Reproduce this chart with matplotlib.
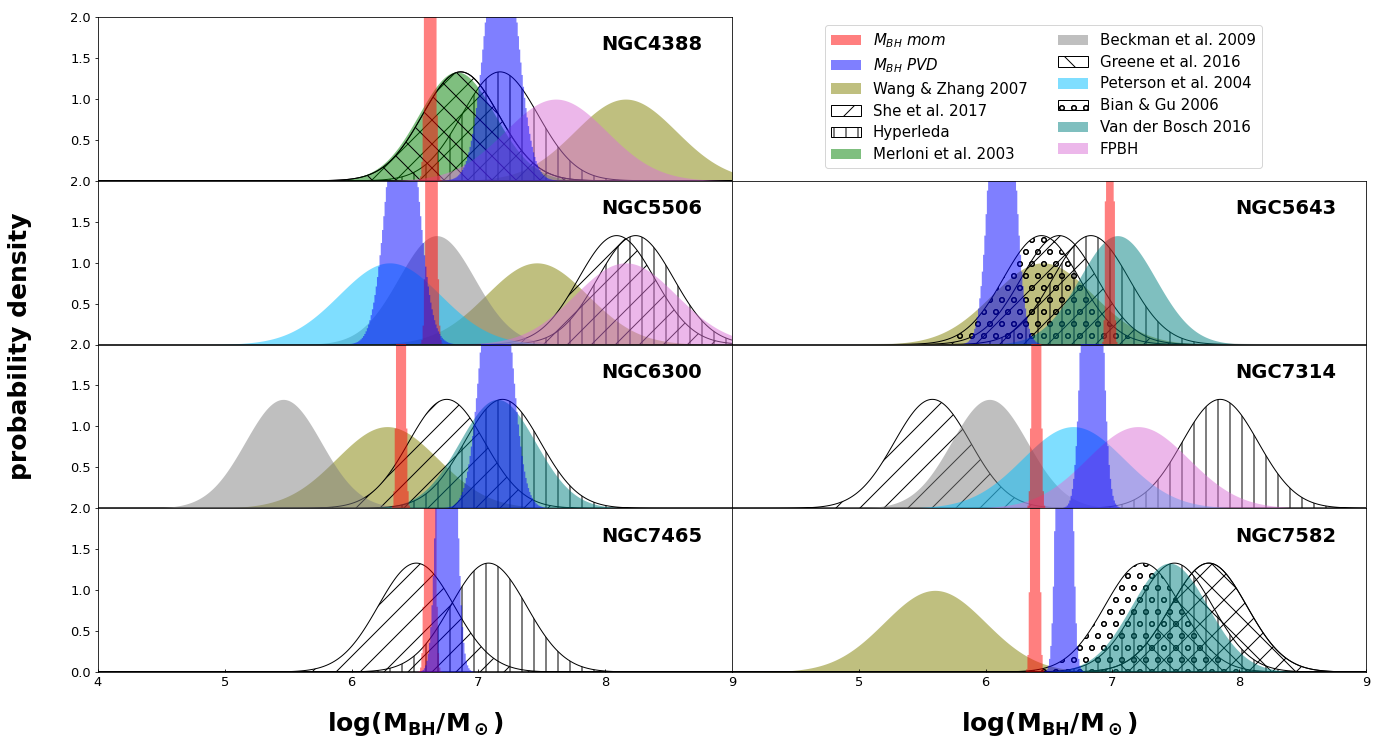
import numpy as np
import matplotlib
matplotlib.use('Agg')
import matplotlib.pyplot as plt
from matplotlib.patches import Patch

# galaxies, in panel order (left column top->bottom, then right column)
left_gal = ['NGC4388', 'NGC5506', 'NGC6300', 'NGC7465']
right_gal = [None, 'NGC5643', 'NGC7314', 'NGC7582']

# our own estimates (narrow histograms): mean, sigma
mom_mean = {'NGC4388': 6.62, 'NGC5506': 6.63, 'NGC6300': 6.39, 'NGC7465': 6.62,
            'NGC5643': 6.98, 'NGC7314': 6.40, 'NGC7582': 6.39}
mom_sig = {'NGC4388': 0.022, 'NGC5506': 0.022, 'NGC6300': 0.018, 'NGC7465': 0.022,
           'NGC5643': 0.015, 'NGC7314': 0.018, 'NGC7582': 0.018}
pvd_mean = {'NGC4388': 7.18, 'NGC5506': 6.40, 'NGC6300': 7.14, 'NGC7465': 6.75,
            'NGC5643': 6.13, 'NGC7314': 6.84, 'NGC7582': 6.62}
pvd_sig = {'NGC4388': 0.12, 'NGC5506': 0.115, 'NGC6300': 0.11, 'NGC7465': 0.055,
           'NGC5643': 0.085, 'NGC7314': 0.06, 'NGC7582': 0.04}

# literature values: galaxy -> (log M, sigma)
wang_zhang = {'NGC4388': (8.16, 0.4), 'NGC5506': (7.46, 0.4), 'NGC6300': (6.28, 0.4),
              'NGC5643': (6.45, 0.4), 'NGC7582': (5.60, 0.4)}
she = {'NGC4388': (6.86, 0.3), 'NGC5506': (8.09, 0.3), 'NGC6300': (6.75, 0.3),
       'NGC7465': (6.51, 0.3), 'NGC5643': (6.58, 0.3), 'NGC7314': (5.58, 0.3),
       'NGC7582': (7.76, 0.3)}
hyperleda = {'NGC4388': (7.17, 0.3), 'NGC5506': (8.24, 0.3), 'NGC6300': (7.19, 0.3),
             'NGC7465': (7.08, 0.3), 'NGC5643': (6.83, 0.3), 'NGC7314': (7.85, 0.3),
             'NGC7582': (7.49, 0.3)}
merloni = {'NGC4388': (6.83, 0.3)}
beckman = {'NGC5506': (6.67, 0.3), 'NGC6300': (5.46, 0.3), 'NGC7314': (6.03, 0.3)}
greene = {'NGC4388': (6.86, 0.3), 'NGC7582': (7.76, 0.3)}
peterson = {'NGC5506': (6.30, 0.4), 'NGC7314': (6.69, 0.4)}
bian_gu = {'NGC5643': (6.44, 0.3), 'NGC7582': (7.24, 0.3)}
vdbosch = {'NGC6300': (7.15, 0.3), 'NGC5643': (7.04, 0.3), 'NGC7582': (7.45, 0.3)}
fpbh = {'NGC4388': (7.61, 0.4), 'NGC5506': (8.16, 0.4), 'NGC7314': (7.20, 0.4)}

# (label, data, color, hatch)
sources = [
    ('Wang & Zhang 2007', wang_zhang, 'olive', None),
    ('She et al. 2017', she, None, '/'),
    ('Hyperleda', hyperleda, None, '|'),
    ('Merloni et al. 2003', merloni, 'green', None),
    ('Beckman et al. 2009', beckman, 'gray', None),
    ('Greene et al. 2016', greene, None, '\\'),
    ('Peterson et al. 2004', peterson, 'deepskyblue', None),
    ('Bian & Gu 2006', bian_gu, None, 'o'),
    ('Van der Bosch 2016', vdbosch, 'teal', None),
    ('FPBH', fpbh, 'orchid', None),
]


def gauss(x, mu, s):
    return np.exp(-0.5 * ((x - mu) / s) ** 2) / (s * np.sqrt(2 * np.pi))


x = np.linspace(3.5, 9.5, 3000)
edges = np.arange(3.5, 9.5001, 0.01)
centers = 0.5 * (edges[1:] + edges[:-1])

W, H, DPI = 1381, 738, 72
fig = plt.figure(figsize=(W / DPI, H / DPI), dpi=DPI)
gs = fig.add_gridspec(4, 2, left=98 / W, right=1366 / W, top=1 - 17 / H,
                      bottom=1 - 672 / H, hspace=0, wspace=0)


def draw_panel(ax, gal):
    for label, data, color, hatch in sources:
        if gal not in data:
            continue
        mu, s = data[gal]
        y = gauss(x, mu, s)
        if hatch is None:
            ax.fill_between(x, y, color=color, alpha=0.5, lw=0)
        else:
            ax.fill_between(x, y, facecolor='none', edgecolor='black',
                            hatch=hatch, lw=1)
    ax.stairs(gauss(centers, mom_mean[gal], mom_sig[gal]), edges, fill=True,
              color='red', alpha=0.5)
    ax.stairs(gauss(centers, pvd_mean[gal], pvd_sig[gal]), edges, fill=True,
              color='blue', alpha=0.5)
    ax.set_xlim(4, 9)
    ax.set_ylim(0, 2)
    ax.text(0.953, 0.83, gal, transform=ax.transAxes, ha='right', va='center',
            fontsize=19.5, fontweight='bold')
    ax.tick_params(labelsize=13)
    ax.tick_params(axis='x', direction='in')


for row in range(4):
    for col, gals in enumerate([left_gal, right_gal]):
        gal = gals[row]
        if gal is None:
            continue
        ax = fig.add_subplot(gs[row, col])
        draw_panel(ax, gal)
        if col == 0:
            if row == 3:
                ax.set_yticks([0, 0.5, 1.0, 1.5, 2.0])
            else:
                ax.set_yticks([0.5, 1.0, 1.5, 2.0])
        else:
            ax.tick_params(axis='y', left=False, labelleft=False)
        if row < 3:
            ax.tick_params(axis='x', bottom=False, labelbottom=False)
        else:
            if col == 1:
                ax.set_xticks([5, 6, 7, 8, 9])
            ax.set_xlabel(r'log($\mathbf{M_{BH}/M_\odot}$)', fontsize=25,
                          fontweight='bold', labelpad=21)

fig.text(20 / W, 1 - 346 / H, 'probability density', rotation=90,
         ha='center', va='center', fontsize=25, fontweight='bold')

handles = [Patch(facecolor='red', alpha=0.5, label=r'$M_{BH}$ $mom$'),
           Patch(facecolor='blue', alpha=0.5, label=r'$M_{BH}$ $PVD$')]
for label, data, color, hatch in sources:
    if hatch is None:
        handles.append(Patch(facecolor=color, alpha=0.5, label=label))
    else:
        handles.append(Patch(facecolor='none', edgecolor='black', hatch=hatch,
                             label=label))
fig.legend(handles=handles, ncol=2, loc='upper left', borderaxespad=0,
           bbox_to_anchor=(825 / W, 1 - 25 / H), fontsize=15,
           labelspacing=0.45)

fig.savefig('out.png', dpi=DPI)
